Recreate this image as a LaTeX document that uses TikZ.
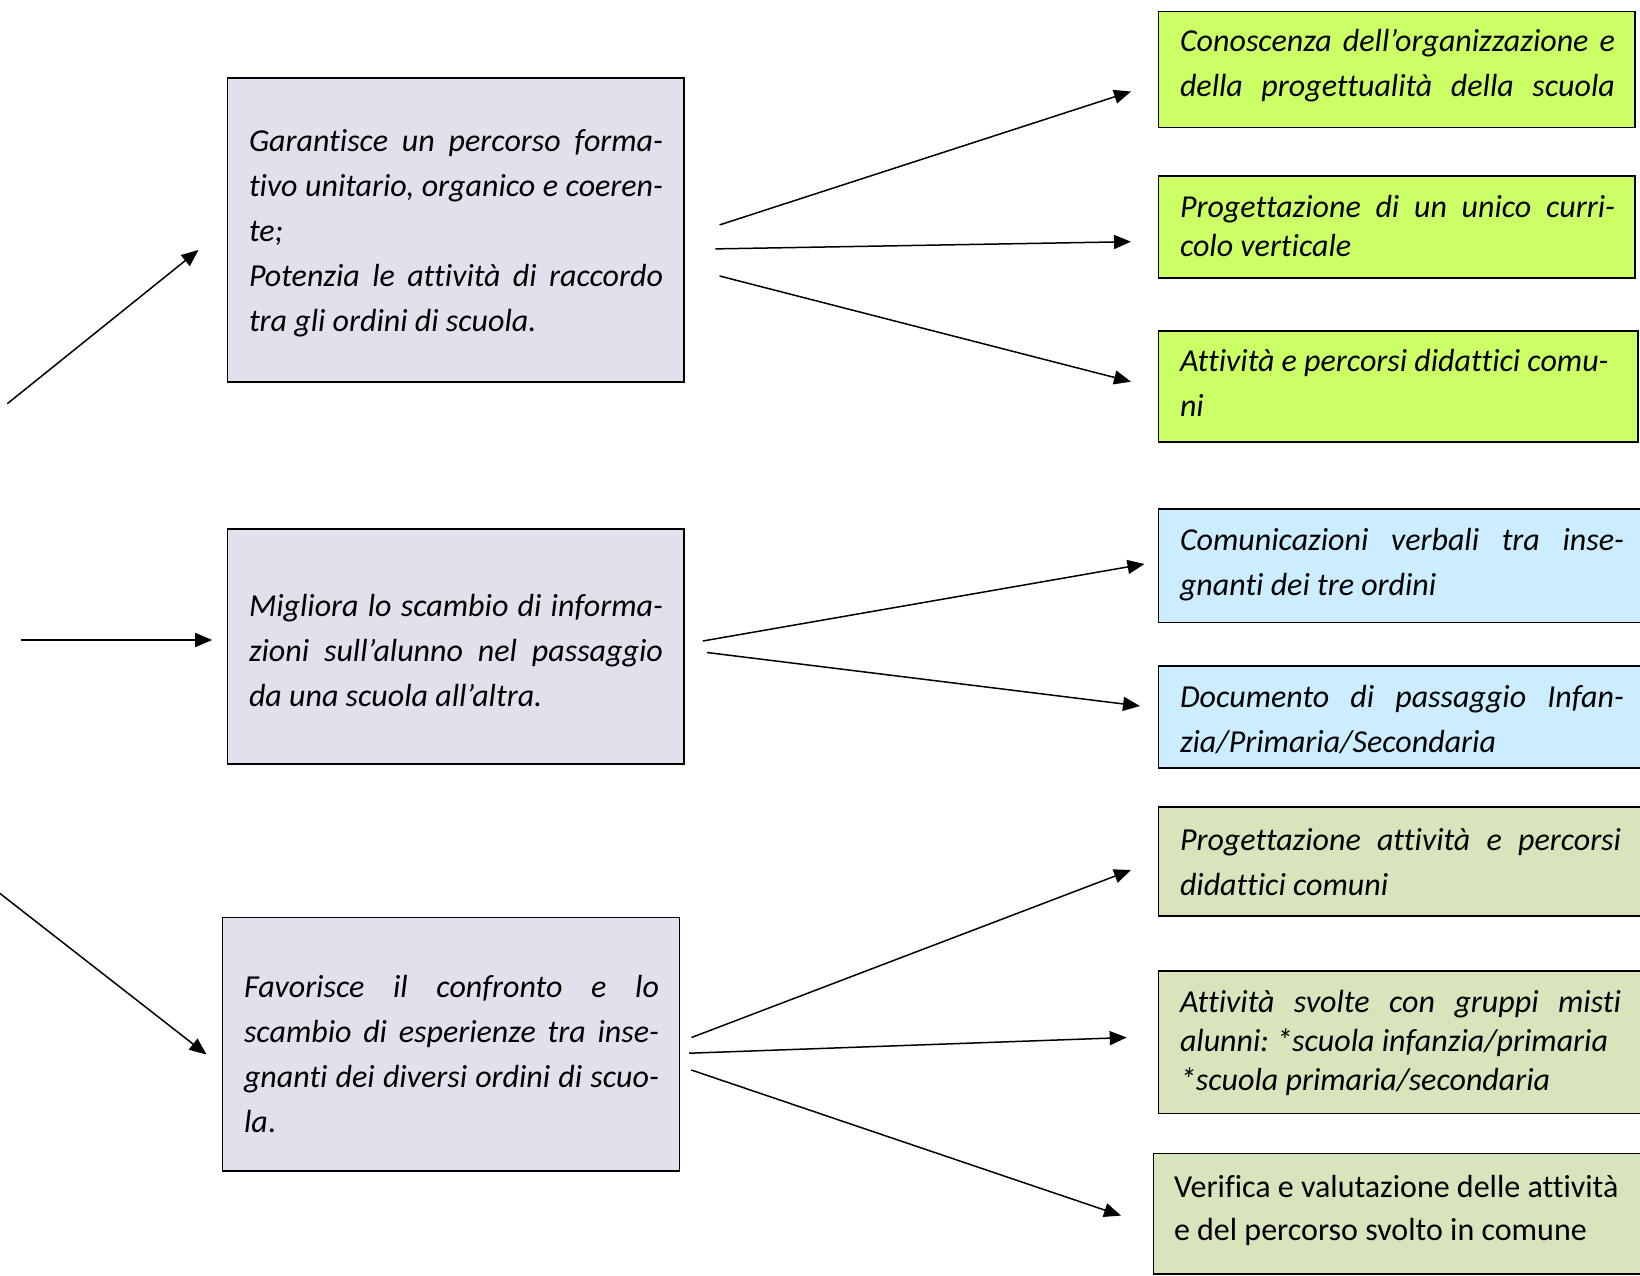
\documentclass[tikz,border=0pt]{standalone}
\usepackage{fontspec}
\setmainfont{Carlito}[Ligatures={NoCommon}]
\usetikzlibrary{arrows.meta}
\definecolor{lav}{HTML}{E4DFEC}
\definecolor{lime}{HTML}{CCFF66}
\definecolor{sky}{HTML}{CCECFF}
\definecolor{olive}{HTML}{D8E4BC}
\newcommand\jline[2]{\makebox[#1][s]{#2}}
\frenchspacing
\begin{document}
\begin{tikzpicture}[x=1pt,y=-1pt,
  box/.style={draw=black, line width=1.8pt, outer sep=0pt, inner sep=0pt, anchor=north west},
  txt/.style={anchor=north west, inner sep=0pt, outer sep=0pt, align=left, font=\fontsize{32}{45}\selectfont\itshape\frenchspacing},
  txts/.style={txt, font=\fontsize{32}{39}\selectfont\itshape\frenchspacing},
  arr/.style={line width=1.5pt, -{Triangle[length=17pt,width=14pt]}}]
\useasboundingbox (0,0) rectangle (1640,1276);
\begin{scope}
\clip (0,0) rectangle (1640,1276);
% left boxes
\node[box, fill=lav, minimum width=456.5pt, minimum height=304pt] (B1) at (227.5,78) {};
\node[box, fill=lav, minimum width=456.5pt, minimum height=235pt] (B2) at (227.5,529) {};
\node[box, fill=lav, minimum width=457pt, minimum height=253.5pt] (B3) at (222.5,917.5) {};
% right boxes
\node[box, fill=lime, minimum width=476.5pt, minimum height=116pt] (G1) at (1158.5,11.5) {};
\node[box, fill=lime, minimum width=476.5pt, minimum height=102pt] (G2) at (1158.5,176) {};
\node[box, fill=lime, minimum width=479.5pt, minimum height=110.7pt] (G3) at (1158.5,331) {};
\node[box, fill=sky, minimum width=491.5pt, minimum height=113.5pt] (S1) at (1158.5,509) {};
\node[box, fill=sky, minimum width=491.5pt, minimum height=102pt] (S2) at (1158.5,666) {};
\node[box, fill=olive, minimum width=491.5pt, minimum height=108.7pt] (O1) at (1158.5,807.3) {};
\node[box, fill=olive, minimum width=491.5pt, minimum height=142.5pt] (O2) at (1158.5,971) {};
\node[box, fill=olive, minimum width=496.5pt, minimum height=120.5pt] (O3) at (1153.5,1153.5) {};
\end{scope}
% texts
\node[txt] (T1) at (249,120) {\strut\jline{414pt}{Garantisce un percorso forma-}\\
\strut\jline{414pt}{tivo unitario, organico e coeren-}\\
\strut te;\\
\strut\jline{414pt}{Potenzia le attività di raccordo}\\
\strut tra gli ordini di scuola.};
\node[txt] (T2) at (249,584.5) {\strut\jline{414pt}{Migliora lo scambio di informa-}\\
\strut\jline{414pt}{zioni sull’alunno nel passaggio}\\
\strut da una scuola all’altra.};
\node[txt] (T3) at (244,966) {\strut\jline{415pt}{Favorisce il confronto e lo}\\
\strut\jline{415pt}{scambio di esperienze tra inse-}\\
\strut\jline{415pt}{gnanti dei diversi ordini di scuo-}\\
\strut la{\upshape .}};
\node[txt] (TG1) at (1180,20.5) {\strut\jline{435pt}{Conoscenza dell’organizzazione e}\\
\strut\jline{435pt}{della progettualità della scuola}};
\node[txts] (TG2) at (1180,189.7) {\strut\jline{435pt}{Progettazione di un unico curri-}\\
\strut colo verticale};
\node[txt] (TG3) at (1180,339.5) {\strut Attività e percorsi didattici comu-\\
\strut ni};
\node[txt] (TS1) at (1180,518.5) {\strut\jline{444pt}{Comunicazioni verbali tra inse-}\\
\strut gnanti dei tre ordini};
\node[txt] (TS2) at (1180,675.5) {\strut\jline{444pt}{Documento di passaggio Infan-}\\
\strut zia/Primaria/Secondaria};
\node[txt] (TO1) at (1180,818.5) {\strut\jline{441pt}{Progettazione attività e percorsi}\\
\strut didattici comuni};
\node[txts] (TO2) at (1180,984.7) {\strut\jline{441pt}{Attività svolte con gruppi misti}\\
\strut alunni: *scuola infanzia/primaria\\
\strut *scuola primaria/secondaria};
\node[txt, font=\fontsize{32}{43}\selectfont\frenchspacing] (TO3) at (1174,1166.9) {\strut Verifica e valutazione delle attività\\
\strut e del percorso svolto in comune};
% connector end points
\coordinate (a1s) at (7.3,403.7);   \coordinate (a1e) at (198.5,250);
\coordinate (a2s) at (20.7,640);    \coordinate (a2e) at (212.2,640);
\coordinate (a3s) at (-5,889.6);    \coordinate (a3e) at (206.5,1054.5);
\coordinate (r1s) at (719.6,224.9); \coordinate (r1e) at (1131,91.5);
\coordinate (r2s) at (715.4,248.9); \coordinate (r2e) at (1131,241.7);
\coordinate (r3s) at (719.6,276);   \coordinate (r3e) at (1131,381.7);
\coordinate (r4s) at (702.8,641);   \coordinate (r4e) at (1144.5,564);
\coordinate (r5s) at (707,652.5);   \coordinate (r5e) at (1140,706);
\coordinate (r6s) at (691.5,1037.5);\coordinate (r6e) at (1131,870);
\coordinate (r7s) at (689.2,1053.2);\coordinate (r7e) at (1126.7,1037.5);
\coordinate (r8s) at (691.3,1070);  \coordinate (r8e) at (1121,1215.6);
\begin{scope}
\clip (0,0) rectangle (1640,1276);
\draw[arr] (a1s) -- (a1e);
\draw[arr] (a2s) -- (a2e);
\draw[arr] (a3s) -- (a3e);
\end{scope}
\draw[arr] (r1s) -- (r1e);
\draw[arr] (r2s) -- (r2e);
\draw[arr] (r3s) -- (r3e);
\draw[arr] (r4s) -- (r4e);
\draw[arr] (r5s) -- (r5e);
\draw[arr] (r6s) -- (r6e);
\draw[arr] (r7s) -- (r7e);
\draw[arr] (r8s) -- (r8e);
\end{tikzpicture}
\end{document}
